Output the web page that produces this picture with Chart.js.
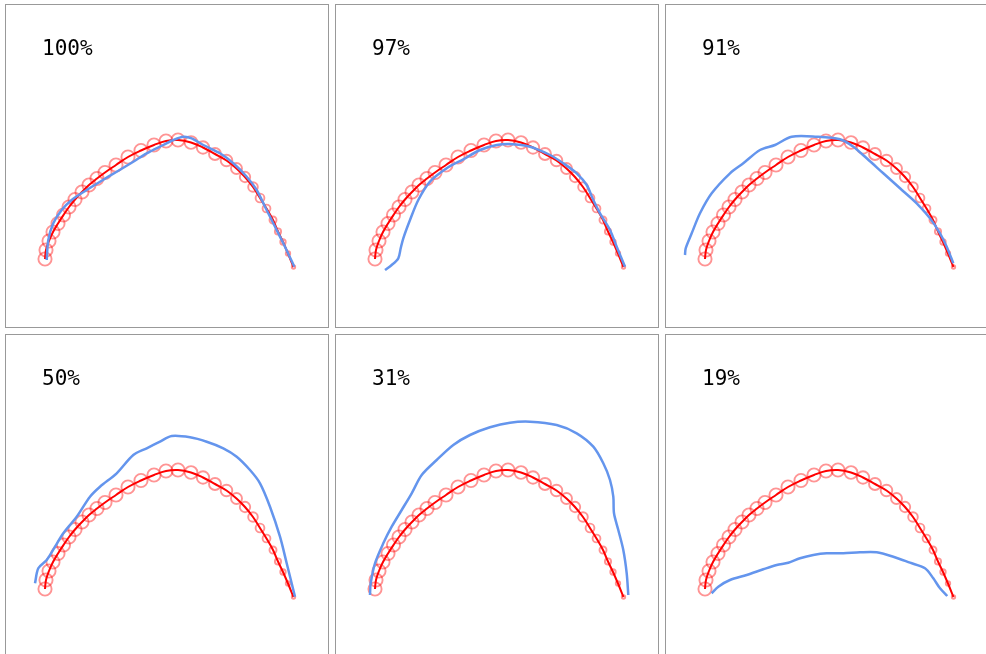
<!DOCTYPE html>
<html>
<head>
<meta charset="utf-8">
<script src="https://cdn.jsdelivr.net/npm/chart.js@4"></script>
<style>
  html, body { margin: 0; padding: 0; background: #fff; overflow: hidden; }
  body { width: 986px; height: 654px; position: relative; }
  .panel { position: absolute; width: 324px; height: 324px; border: 1px solid #999; box-sizing: border-box; background: #fff; }
  .panel canvas { display: block; }
</style>
</head>
<body>
<script>
// Panel labels
const panelLabels = ["100%", "97%", "91%", "50%", "31%", "19%"];

// Reference trajectory (red), shared by all panels
const arcX = [40, 41, 44, 48, 53, 58.5, 64, 70, 77, 84, 92, 100, 111, 123, 136, 149, 161, 173,
              186, 198, 210, 221.5, 231.5, 240, 248, 255, 261.5, 268, 273, 278, 283, 288.5];
const arcY = [255, 246, 237, 228, 219.5, 211, 203, 195.5, 188, 181, 174.5, 168.5, 161, 153, 146.5, 141, 137, 136,
              138.5, 143.5, 150, 156.5, 164.5, 173, 183, 194, 204.5, 216, 227.5, 238, 249.5, 263];
const arcRadius = [6.6, 6.6, 6.6, 6.6, 6.6, 6.6, 6.6, 6.6, 6.6, 6.6, 6.6, 6.6, 6.6, 6.6, 6.6, 6.6, 6.6, 6.6,
                   6.4, 6.2, 6, 5.8, 5.5, 5.2, 4.8, 4.4, 3.9, 3.5, 3.1, 2.7, 2.2, 1.7];

// Predicted trajectories (blue), one per panel
const blue100 = [[41.7,256],[43.3,236],[48.3,219.3],[56.7,206],[66.7,196],[81.7,186],[95,177.7],[111.7,167.7],
  [128.3,157.7],[141.7,149.3],[158.3,141],[168.3,136],[178.3,132.7],[186.7,134.3],[198.3,141],[215,149.3],
  [228.3,159.3],[241.7,172.7],[251.7,186],[260,202.7],[268.3,219.3],[278.3,239.3],[289.3,262.7]];
const blue97 = [[50,266],[56.7,261],[63.3,254.3],[65.7,244.3],[68.3,234.3],[75,216],[83.3,196],[95,177.7],
  [111.7,164.3],[128.3,155.3],[145,146],[161.7,141],[175,140],[195,142.7],[215,151],[228.3,159.3],
  [241.7,169.3],[251.7,181],[258.3,196],[265,209.3],[275,226],[281.7,242.7],[290,262.7]];
const blue91 = [[20,251],[20.7,244.3],[26.7,229.3],[35,209.3],[46.7,189.3],[65,169.3],[78.3,159.3],[95,146],
  [110,141],[126.7,132.7],[151.7,132.7],[175,135.3],[188.3,142.7],[201.7,154.3],[218.3,169.3],[235,184.3],
  [251.7,199.3],[265,214.3],[275,229.3],[281.7,242.7],[288.3,259.3]];
const blue50 = [[30,249.3],[33.3,234.3],[41.7,226],[50,212.7],[58.3,199.3],[71.7,182.7],[85,162.7],[95,152.7],
  [111.7,139.3],[128.3,121],[141.7,114.3],[155,107.7],[166.7,102],[185,103.3],[201.7,107.7],[218.3,114.3],
  [231.7,122.7],[245,136],[255,149.3],[265,172.7],[275,202.7],[281.7,229.3],[290,262.7]];
const blue31 = [[35,261],[35.7,249.3],[40,229.3],[48.3,209.3],[56.7,192.7],[66.7,176],[76.7,159.3],[86.7,141],
  [101.7,126],[118.3,111],[135,101],[155,93.3],[175,88.7],[195,87.7],[221.7,91],[241.7,99.3],[258.3,112.7],
  [268.3,129.3],[275,146],[278.3,162.7],[279,179.3],[283.3,196],[288.3,216],[291.7,239.3],[293.3,261]];
const blue19 = [[46.7,259.3],[53.3,252.7],[65,246],[81.7,241],[98.3,235.3],[111.7,231],[123.3,228.7],[135,224.3],
  [148.3,221],[161.7,219.3],[178.3,219.3],[195,218.3],[211.7,218.3],[228.3,222.7],[245,228.7],[260,234.3],
  [268.3,244.3],[275,254.3],[282.3,262]];
const blueSeries = [blue100, blue97, blue91, blue50, blue31, blue19];

const panelLeft = [5, 335, 665];
const panelTop = [4, 334];

const labelPlugin = {
  id: 'panelLabel',
  afterDraw(chart, args, opts) {
    const ctx = chart.ctx;
    ctx.save();
    ctx.font = '21px "DejaVu Sans Mono", monospace';
    ctx.fillStyle = '#000';
    ctx.textBaseline = 'alphabetic';
    ctx.textAlign = 'left';
    ctx.fillText(opts.text, 36, 50);
    ctx.restore();
  }
};

const arcData = arcX.map((x, i) => ({ x: x, y: arcY[i] }));

blueSeries.forEach((series, idx) => {
  const div = document.createElement('div');
  div.className = 'panel';
  div.style.left = panelLeft[idx % 3] + 'px';
  div.style.top = panelTop[Math.floor(idx / 3)] + 'px';
  const canvas = document.createElement('canvas');
  canvas.width = 322;
  canvas.height = 322;
  div.appendChild(canvas);
  document.body.appendChild(div);

  new Chart(canvas, {
    type: 'scatter',
    data: {
      datasets: [
        {
          data: arcData,
          showLine: true,
          borderColor: '#ff0000',
          borderWidth: 2,
          tension: 0.4,
          pointRadius: arcRadius,
          pointBorderColor: 'rgba(255,0,0,0.42)',
          pointBackgroundColor: 'rgba(255,0,0,0)',
          pointBorderWidth: 1.9,
          clip: false,
          order: 2
        },
        {
          data: series.map(p => ({ x: p[0], y: p[1] })),
          showLine: true,
          borderColor: '#6495ED',
          borderWidth: 2.5,
          tension: 0.3,
          pointRadius: 0,
          clip: false,
          order: 1
        }
      ]
    },
    options: {
      responsive: false,
      animation: false,
      devicePixelRatio: 1,
      layout: { padding: 0, autoPadding: false },
      plugins: {
        legend: { display: false },
        tooltip: { enabled: false },
        title: { display: false },
        panelLabel: { text: panelLabels[idx] }
      },
      scales: {
        x: { type: 'linear', display: false, min: 1, max: 323 },
        y: { type: 'linear', display: false, min: 1, max: 323, reverse: true }
      }
    },
    plugins: [labelPlugin]
  });
});
</script>
</body>
</html>
